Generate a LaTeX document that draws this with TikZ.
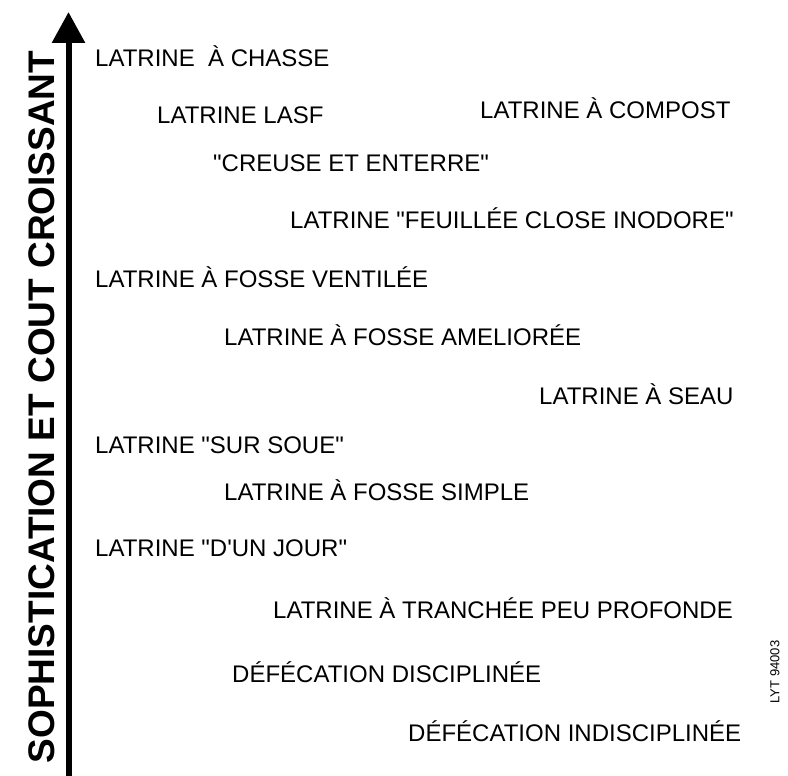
\documentclass[tikz,border=0pt]{standalone}
\usepackage{fontspec}
\setmainfont{Liberation Sans}[Ligatures=TeXOff]
\usetikzlibrary{arrows.meta,positioning}

\begin{document}
\begin{tikzpicture}[x=1pt,y=-1pt]
            \tikzstyle{every node}+=[inner sep=0pt]
            \tikzstyle{lat}=[anchor=west, font=\fontsize{24}{28}\selectfont, text height=17pt, text depth=0pt]
            \useasboundingbox (0,0) rectangle (788,776);
            % axis
            \coordinate (foot) at (68.5,776);
            \coordinate (tip) at (68.5,12);
            \draw [black, line width=6pt, -{Triangle[width=32pt,length=31pt]}] (foot) -- (tip);
            \node (axis) [rotate=90, font=\fontsize{37}{40}\selectfont\bfseries] at (42,407) {SOPHISTICATION ET COUT CROISSANT};
            % options
            \node (chasse) [lat] at (95,58) {LATRINE \ À CHASSE};
            \node (lasf) [lat] at (157,115) {LATRINE LASF};
            \node (compost) [lat] at (480,110) {LATRINE À COMPOST};
            \node (creuse) [lat] at (213,163) {"CREUSE ET ENTERRE"};
            \node (feuillee) [lat] at (290,220) {LATRINE "FEUILLÉE CLOSE INODORE"};
            \node (ventilee) [lat] at (95,279) {LATRINE À FOSSE VENTILÉE};
            \node (amelioree) [lat] at (224,337) {LATRINE À FOSSE AMELIORÉE};
            \node (seau) [lat] at (539,396) {LATRINE À SEAU};
            \node (soue) [lat] at (95,445) {LATRINE "SUR SOUE"};
            \node (simple) [lat] at (224,492) {LATRINE À FOSSE SIMPLE};
            \node (jour) [lat] at (95,548) {LATRINE "D'UN JOUR"};
            \node (tranchee) [lat] at (273,610) {LATRINE À TRANCHÉE PEU PROFONDE};
            \node (disc) [lat] at (232,674) {DÉFÉCATION DISCIPLINÉE};
            \node (indisc) [lat] at (408,733) {DÉFÉCATION INDISCIPLINÉE};
            \node (ref) [rotate=90, font=\fontsize{13}{15}\selectfont] at (775,672) {LYT 94003};
\end{tikzpicture}
\end{document}
